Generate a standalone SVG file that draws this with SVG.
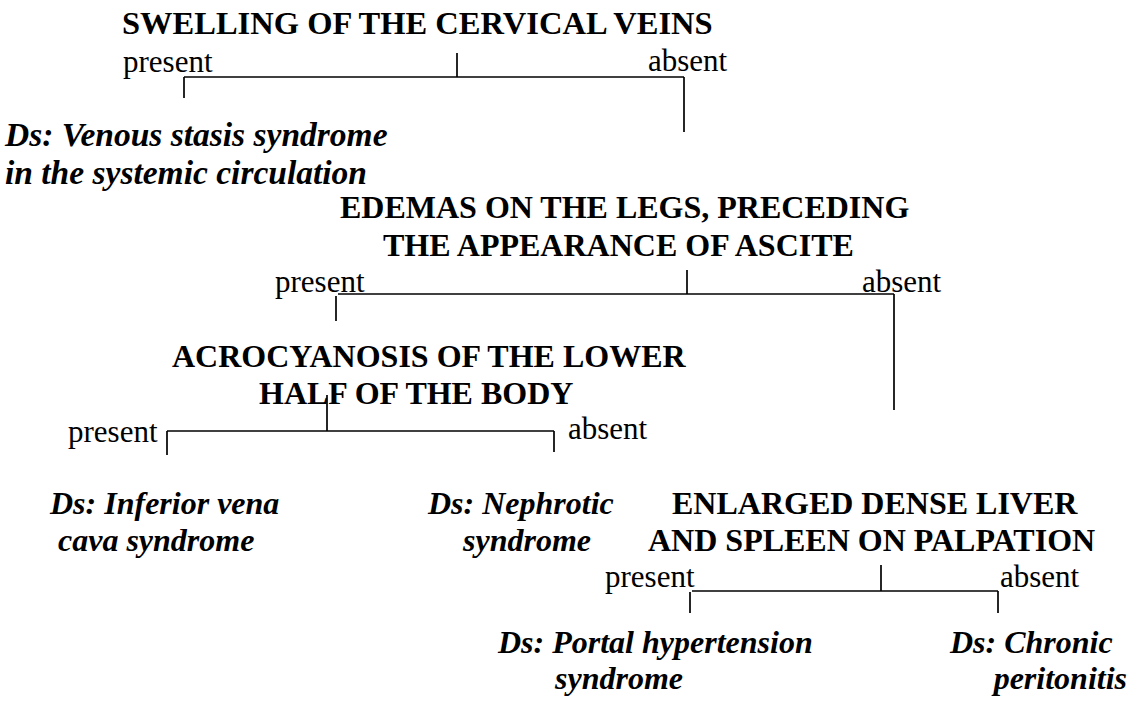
<svg xmlns="http://www.w3.org/2000/svg" width="1133" height="702" viewBox="0 0 1133 702">
<style>
text { font-family: "Liberation Serif", "Times New Roman", serif; font-size: 32px; fill: #000; }
.q { font-weight: bold; }
.d { font-weight: bold; font-style: italic; }
.lbl { font-size: 31px; }
.c line { stroke: #000; stroke-width: 1.7; }
</style>
<rect width="1133" height="702" fill="#fff"/>
<g id="connectors" class="c">
  <line x1="457" y1="53" x2="457" y2="77"/>
  <line x1="184" y1="77" x2="684" y2="77"/>
  <line x1="184" y1="77" x2="184" y2="98"/>
  <line x1="684" y1="77" x2="684" y2="132"/>
  <line x1="687" y1="270" x2="687" y2="294"/>
  <line x1="338" y1="294" x2="894" y2="294"/>
  <line x1="336" y1="296" x2="336" y2="321"/>
  <line x1="894" y1="294" x2="894" y2="410"/>
  <line x1="327" y1="395" x2="327" y2="431"/>
  <line x1="167" y1="431" x2="554" y2="431"/>
  <line x1="167" y1="431" x2="167" y2="455"/>
  <line x1="554" y1="431" x2="554" y2="452"/>
  <line x1="881" y1="565" x2="881" y2="591"/>
  <line x1="692" y1="591" x2="998" y2="591"/>
  <line x1="690" y1="592" x2="690" y2="613"/>
  <line x1="998" y1="591" x2="998" y2="613"/>
</g>
<g id="q1">
  <text class="q" x="122" y="34" style="font-size:32.5px">SWELLING OF THE CERVICAL VEINS</text>
  <text class="lbl" x="123" y="72">present</text>
  <text class="lbl" x="648" y="71">absent</text>
</g>
<g id="d1">
  <text class="d" x="5" y="146" style="font-size:33.5px">Ds: Venous stasis syndrome</text>
  <text class="d" x="5" y="184" style="font-size:33.5px">in the systemic circulation</text>
</g>
<g id="q2">
  <text class="q" x="340" y="218">EDEMAS ON THE LEGS, PRECEDING</text>
  <text class="q" x="383" y="256">THE APPEARANCE OF ASCITE</text>
  <text class="lbl" x="275" y="292">present</text>
  <text class="lbl" x="862" y="292">absent</text>
</g>
<g id="q3">
  <text class="q" x="172" y="367">ACROCYANOSIS OF THE LOWER</text>
  <text class="q" x="259" y="404">HALF OF THE BODY</text>
  <text class="lbl" x="68" y="442">present</text>
  <text class="lbl" x="568" y="439">absent</text>
</g>
<g id="d2">
  <text class="d" x="50" y="514">Ds: Inferior vena</text>
  <text class="d" x="58" y="551">cava syndrome</text>
</g>
<g id="d3">
  <text class="d" x="428" y="514">Ds: Nephrotic</text>
  <text class="d" x="463" y="551">syndrome</text>
</g>
<g id="q4">
  <text class="q" x="672" y="514">ENLARGED DENSE LIVER</text>
  <text class="q" x="648" y="551">AND SPLEEN ON PALPATION</text>
  <text class="lbl" x="605" y="587">present</text>
  <text class="lbl" x="1000" y="587">absent</text>
</g>
<g id="d4">
  <text class="d" x="498" y="653">Ds: Portal hypertension</text>
  <text class="d" x="555" y="689">syndrome</text>
</g>
<g id="d5">
  <text class="d" x="950" y="653">Ds: Chronic</text>
  <text class="d" x="1127" y="689" text-anchor="end">peritonitis</text>
</g>
</svg>
